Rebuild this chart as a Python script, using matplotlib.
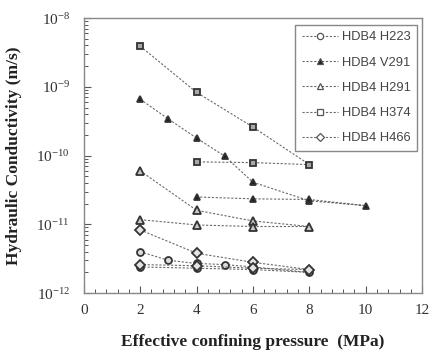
import matplotlib
matplotlib.use("Agg")
import matplotlib.pyplot as plt
from matplotlib.ticker import MultipleLocator, LogLocator, NullFormatter

# Data (effective confining pressure in MPa, hydraulic conductivity in m/s)
h223_x = [2, 3, 4, 5, 6, 8, 6, 4, 2]
h223_y = [4.0e-12, 3.0e-12, 2.7e-12, 2.6e-12, 2.4e-12, 2.0e-12, 2.2e-12, 2.3e-12, 2.4e-12]

v291_x = [2, 3, 4, 5, 6, 8, 10, 8, 6, 4]
v291_y = [6.6e-10, 3.4e-10, 1.8e-10, 9.8e-11, 4.1e-11, 2.2e-11, 1.87e-11, 2.3e-11, 2.35e-11, 2.5e-11]

h291_x = [2, 4, 6, 8, 6, 4, 2]
h291_y = [6.0e-11, 1.6e-11, 1.12e-11, 9.3e-12, 9.3e-12, 9.8e-12, 1.17e-11]

h374_x = [2, 4, 6, 8, 6, 4]
h374_y = [3.9e-9, 8.3e-10, 2.6e-10, 7.4e-11, 7.9e-11, 8.1e-11]

h466_x = [2, 4, 6, 8, 6, 4, 2]
h466_y = [8.3e-12, 3.8e-12, 2.8e-12, 2.2e-12, 2.3e-12, 2.5e-12, 2.6e-12]

labels = ["HDB4 H223", "HDB4 V291", "HDB4 H291", "HDB4 H374", "HDB4 H466"]
x_ticks = [0, 2, 4, 6, 8, 10, 12]

plt.rcParams['mathtext.fontset'] = 'custom'
plt.rcParams['mathtext.rm'] = 'Liberation Serif'
plt.rcParams['mathtext.it'] = 'Liberation Serif:italic'
plt.rcParams['mathtext.bf'] = 'Liberation Serif:bold'

fig = plt.figure(figsize=(4.32, 3.54), dpi=100)
ax = fig.add_axes([0.194, 0.172, 0.783, 0.777])

edge = '#333333'
line_c = '#6a6a6a'
series = [
    (h223_x, h223_y, 'o', '#dcdcdc', 5),
    (v291_x, v291_y, '^', '#1e1e1e', 5),
    (h291_x, h291_y, '^', '#c8c8c8', 5.5),
    (h374_x, h374_y, 's', '#a8a8a8', 5),
    (h466_x, h466_y, 'D', '#e4e4e4', 5),
]
for (x, y, m, fc, ms), lab in zip(series, labels):
    ax.plot(x, y, linestyle=(0, (2, 1.5)), color=line_c, linewidth=0.8,
            marker=m, markersize=ms, markerfacecolor=fc, markeredgecolor=edge,
            markeredgewidth=1.3, label=lab)

ax.set_yscale('log')
ax.set_xlim(0, 12)
ax.set_ylim(1e-12, 1e-8)
ax.set_xticks(x_ticks)
ax.xaxis.set_minor_locator(MultipleLocator(0.4))
ax.yaxis.set_minor_locator(LogLocator(base=10, subs=range(2, 10)))
ax.yaxis.set_minor_formatter(NullFormatter())
ax.set_yticks([1e-12, 1e-11, 1e-10, 1e-9, 1e-8])
ax.set_yticklabels([r'$10^{-12}$', r'$10^{-11}$', r'$10^{-10}$', r'$10^{-9}$', r'$10^{-8}$'])

ax.tick_params(axis='both', which='major', direction='in', length=5, width=0.8,
               color='#555555', labelsize=11, pad=8)
ax.tick_params(axis='both', which='minor', direction='in', length=3, width=0.7,
               color='#555555')
ax.tick_params(axis='y', which='both', pad=10)
for lab in ax.get_xticklabels() + ax.get_yticklabels():
    lab.set_fontfamily('Liberation Serif')
    lab.set_color('#333333')

for s in ax.spines.values():
    s.set_color('#888888')
    s.set_linewidth(1.0)

ax.set_xlabel('Effective confining pressure  (MPa)', fontfamily='Liberation Serif',
              fontweight='bold', fontsize=12.5, labelpad=12, color='#222222')
ax.set_ylabel('Hydraulic Conductivity (m/s)', fontfamily='Liberation Serif',
              fontweight='bold', fontsize=12.5, labelpad=10, color='#222222')

leg = ax.legend(loc='upper right', bbox_to_anchor=(0.985, 0.975),
                borderaxespad=0,
                prop={'family': 'Liberation Sans', 'size': 9.3},
                handlelength=2.8, handletextpad=0.3, labelspacing=1.02,
                borderpad=0.5, fancybox=False, framealpha=1,
                edgecolor='#888888', markerscale=0.9)
for t in leg.get_texts():
    t.set_color('#444444')
for h in leg.legend_handles:
    h.set_markerfacecolor('white')
    h.set_markeredgecolor('#555555')
    h.set_markeredgewidth(0.9)
leg.legend_handles[1].set_markerfacecolor('#202020')

fig.savefig('out.png', dpi=100)
